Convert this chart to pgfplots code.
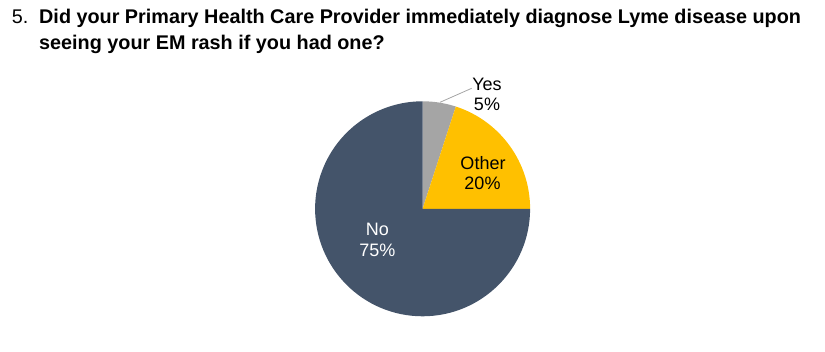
\documentclass[border=0pt]{standalone}
\usepackage{pgfplots}
\pgfplotsset{compat=1.18}
\usepackage{pgfplotstable}
\usepackage{fontspec}
\setmainfont{Liberation Sans}
\definecolor{nocol}{HTML}{44546A}
\definecolor{othercol}{HTML}{FFC000}
\definecolor{yescol}{HTML}{A5A5A5}
\pgfplotstableread{
label value
Yes 5
Other 20
No 75
}\piedata
\begin{document}
\begin{tikzpicture}
\pgfplotstablegetelem{0}{value}\of\piedata \let\vYes\pgfplotsretval
\pgfplotstablegetelem{1}{value}\of\piedata \let\vOther\pgfplotsretval
\pgfplotstablegetelem{2}{value}\of\piedata \let\vNo\pgfplotsretval
\pgfmathsetmacro\aA{90-3.6*\vYes}
\pgfmathsetmacro\aB{\aA-3.6*\vOther}
\pgfmathsetmacro\aC{\aB-3.6*\vNo}
\path[use as bounding box] (0,0) rectangle (825pt,352pt);
\begin{axis}[
  at={(0,0)}, anchor=south west,
  scale only axis, width=825pt, height=352pt,
  xmin=0, xmax=825, ymin=0, ymax=352,
  enlargelimits=false, hide axis, clip=false,
]
\addplot[draw=none] coordinates {(0,0) (825,352)};
% slices
\fill[yescol] (axis cs:422.6,143.2) -- ++(90:107.5pt) arc[start angle=90, end angle=\aA, radius=107.5pt] -- cycle;
\fill[othercol] (axis cs:422.6,143.2) -- ++(\aA:107.5pt) arc[start angle=\aA, end angle=\aB, radius=107.5pt] -- cycle;
\fill[nocol] (axis cs:422.6,143.2) -- ++(\aB:107.5pt) arc[start angle=\aB, end angle=\aC, radius=107.5pt] -- cycle;
% leader line
\draw[yescol, line width=0.8pt] (axis cs:440,249.7) -- (axis cs:471.7,263.7);
% labels
\node[anchor=base, font=\fontsize{18}{20}\selectfont] at (axis cs:487,261.3) {Yes};
\node[anchor=base, font=\fontsize{18}{20}\selectfont] at (axis cs:487,241.3) {5\%};
\node[anchor=base, font=\fontsize{18}{20}\selectfont] at (axis cs:483,182.7) {Other};
\node[anchor=base, font=\fontsize{18}{20}\selectfont] at (axis cs:482.5,162.2) {20\%};
\node[anchor=base, text=white, font=\fontsize{18}{20}\selectfont] at (axis cs:377.3,116) {No};
\node[anchor=base, text=white, font=\fontsize{18}{20}\selectfont] at (axis cs:377.3,95.3) {75\%};
% title
\node[anchor=base west, inner sep=0pt, font=\fontsize{19.8}{22}\selectfont] at (axis cs:11.7,328.7) {5.};
\node[anchor=base west, inner sep=0pt, font=\fontsize{19.8}{22}\selectfont\bfseries] at (axis cs:39,328.7) {Did your Primary Health Care Provider immediately diagnose Lyme disease upon};
\node[anchor=base west, inner sep=0pt, font=\fontsize{19.8}{22}\selectfont\bfseries] at (axis cs:39,302) {seeing your EM rash if you had one?};
\end{axis}
\end{tikzpicture}
\end{document}
